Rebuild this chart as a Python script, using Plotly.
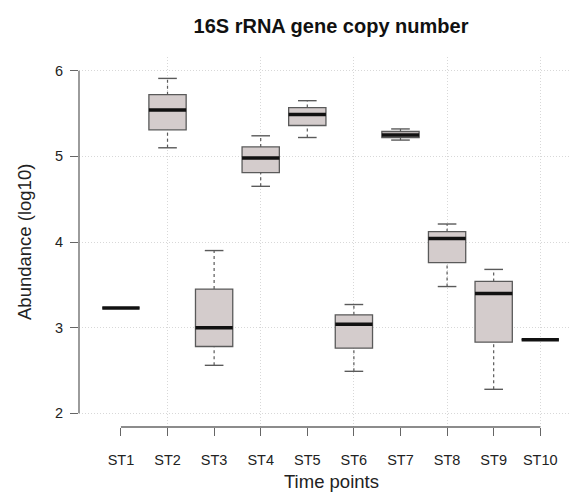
import plotly.graph_objects as go

categories = ["ST1", "ST2", "ST3", "ST4", "ST5", "ST6", "ST7", "ST8", "ST9", "ST10"]
whisker_low = [3.23, 5.10, 2.56, 4.65, 5.22, 2.49, 5.19, 3.48, 2.28, 2.86]
q1 = [3.23, 5.31, 2.78, 4.81, 5.36, 2.76, 5.22, 3.76, 2.83, 2.86]
median = [3.23, 5.54, 3.00, 4.98, 5.49, 3.04, 5.25, 4.04, 3.40, 2.86]
q3 = [3.23, 5.72, 3.45, 5.11, 5.57, 3.15, 5.29, 4.12, 3.54, 2.86]
whisker_high = [3.23, 5.91, 3.90, 5.24, 5.65, 3.27, 5.32, 4.21, 3.68, 2.86]
y_ticks = [2, 3, 4, 5, 6]

FONT = "Liberation Sans, Arial, Helvetica, sans-serif"
BOX_W = 0.8
CAP_HALF = 0.2
MED_HALF = 0.4
pos = list(range(1, len(categories) + 1))

# page has an 8px body margin; the figure is sized to fit inside the window
OFF = 8
W, H = 578 - OFF, 493 - OFF
ML, MR, MT, MB = 79 - OFF, 0, 57 - OFF, 66
PW, PH = W - ML - MR, H - MT - MB


def page_to_paper(px, py):
    fx, fy = px - OFF, py - OFF
    return (fx - ML) / PW, (H - MB - fy) / PH


fig = go.Figure()

fig.add_trace(go.Box(
    x=pos, q1=q1, median=median, q3=q3, lowerfence=q1, upperfence=q3,
    width=BOX_W, fillcolor="#d4cccc", line=dict(color="#5a5a5a", width=1.3),
    boxpoints=False, showlegend=False, hoverinfo="skip", whiskerwidth=0,
))

wx, wy = [], []
cx, cy = [], []
for p, lo, a, b, hi in zip(pos, whisker_low, q1, q3, whisker_high):
    if hi > b:
        wx += [p, p, None]; wy += [b, hi, None]
    if lo < a:
        wx += [p, p, None]; wy += [lo, a, None]
    if hi > lo:
        cx += [p - CAP_HALF, p + CAP_HALF, None]; cy += [hi, hi, None]
        cx += [p - CAP_HALF, p + CAP_HALF, None]; cy += [lo, lo, None]
fig.add_trace(go.Scatter(x=wx, y=wy, mode="lines", line=dict(color="#5a5a5a", width=1.2, dash="3px,3px"),
                         showlegend=False, hoverinfo="skip"))
fig.add_trace(go.Scatter(x=cx, y=cy, mode="lines", line=dict(color="#5a5a5a", width=1.4),
                         showlegend=False, hoverinfo="skip"))

mx, my = [], []
for p, m in zip(pos, median):
    mx += [p - MED_HALF, p + MED_HALF, None]; my += [m, m, None]
fig.add_trace(go.Scatter(x=mx, y=my, mode="lines", line=dict(color="#111111", width=3.5),
                         showlegend=False, hoverinfo="skip"))

fig.add_trace(go.Scatter(x=[pos[1]], y=[y_ticks[0]], xaxis="x2", mode="markers",
                         marker=dict(opacity=0), showlegend=False, hoverinfo="skip"))

xr = [0.1, 10.81]
yr = [1.84, 6.16]
grid_color = "#d8d8d8"
grid_dash = "1px,2px"

tx, ty = page_to_paper(331, 481)
ax_, ay_ = page_to_paper(24, 242)

fig.update_layout(
    width=W, height=H,
    margin=dict(l=ML, r=MR, t=MT, b=MB, autoexpand=False),
    paper_bgcolor="white", plot_bgcolor="white",
    font=dict(family=FONT, color="#222222"),
    title=dict(text="<b>16S rRNA gene copy number</b>", x=(331 - OFF) / W, xanchor="center",
               xref="container", y=1 - (26 - OFF) / H, yanchor="middle", yref="container",
               font=dict(size=20, color="#111111", family=FONT)),
    xaxis=dict(range=xr, tickmode="array", tickvals=pos, ticktext=categories, automargin=False,
               showgrid=False, zeroline=False, showline=False,
               ticks="outside", ticklen=8, tickwidth=1.3, tickcolor="#666666",
               tickfont=dict(size=14.5, color="#222222"), ticklabelstandoff=12),
    xaxis2=dict(range=xr, overlaying="x", tickmode="array", tickvals=pos[1::2], automargin=False,
                showgrid=True, gridcolor=grid_color, griddash=grid_dash, gridwidth=1,
                showticklabels=False, ticks="", zeroline=False, showline=False),
    yaxis=dict(range=yr, tickmode="array", tickvals=y_ticks, ticktext=[str(v) for v in y_ticks],
               automargin=False,
               showgrid=True, gridcolor=grid_color, griddash=grid_dash, gridwidth=1,
               zeroline=False, showline=False,
               ticks="outside", ticklen=8, tickwidth=1.3, tickcolor="#666666",
               tickfont=dict(size=14.5, color="#222222"), ticklabelstandoff=4),
    annotations=[
        dict(text="Time points", x=tx, y=ty, xref="paper", yref="paper",
             xanchor="center", yanchor="middle", showarrow=False,
             font=dict(size=18.5, color="#222222", family=FONT)),
        dict(text="Abundance (log10)", x=ax_, y=ay_, xref="paper", yref="paper",
             xanchor="center", yanchor="middle", showarrow=False, textangle=-90,
             font=dict(size=18.5, color="#222222", family=FONT)),
    ],
    shapes=[
        dict(type="line", xref="paper", yref="y", x0=0, x1=0, y0=y_ticks[0], y1=y_ticks[-1],
             line=dict(color="#666666", width=1.3), layer="above"),
        dict(type="line", xref="x", yref="paper", x0=pos[0], x1=pos[-1], y0=0, y1=0,
             line=dict(color="#666666", width=1.3), layer="above"),
    ],
)

fig.write_html("out.html")
